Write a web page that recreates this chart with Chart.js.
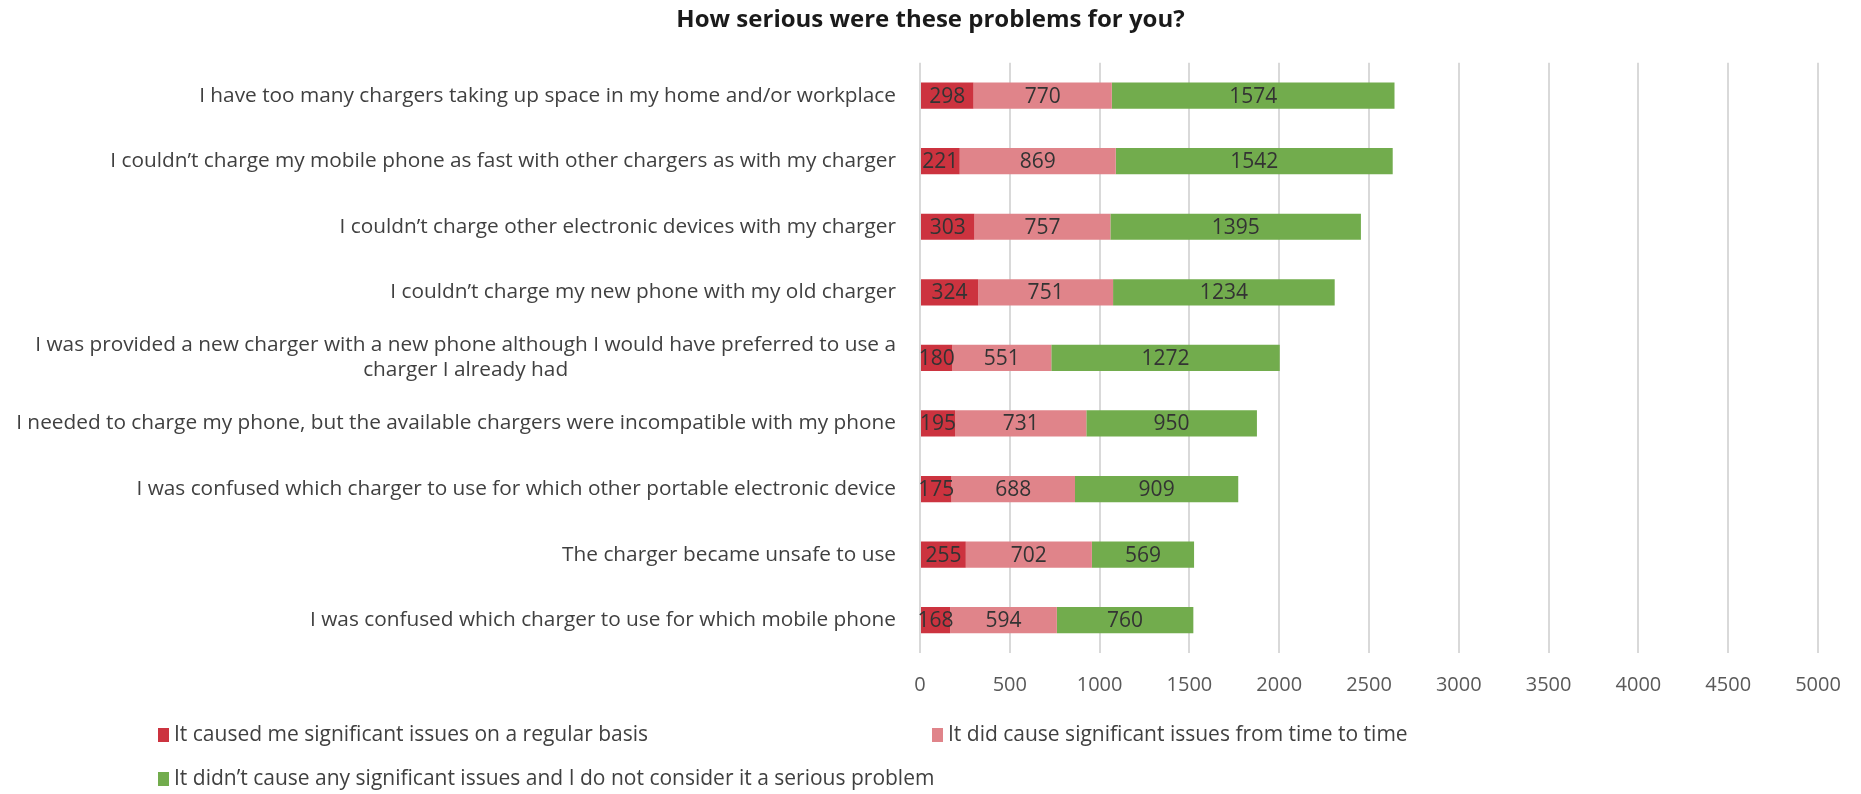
<!DOCTYPE html>
<html>
<head>
<meta charset="utf-8">
<script src="https://cdn.jsdelivr.net/npm/chart.js@4.4.1/dist/chart.umd.min.js"></script>
<style>
html, body { margin: 0; padding: 0; background: #fff; }
</style>
</head>
<body>
<canvas id="bar-chart" width="1861" height="794"></canvas>
<script>
// survey answers, one entry per problem (top to bottom)
const problems = [
	"I have too many chargers taking up space in my home and/or workplace",
	"I couldn’t charge my mobile phone as fast with other chargers as with my charger",
	"I couldn’t charge other electronic devices with my charger",
	"I couldn’t charge my new phone with my old charger",
	["I was provided a new charger with a new phone although I would have preferred to use a", "charger I already had"],
	"I needed to charge my phone, but the available chargers were incompatible with my phone",
	"I was confused which charger to use for which other portable electronic device",
	"The charger became unsafe to use",
	"I was confused which charger to use for which mobile phone"
];
const regular    = [298, 221, 303, 324, 180, 195, 175, 255, 168];
const timeToTime = [770, 869, 757, 751, 551, 731, 688, 702, 594];
const notSerious = [1574, 1542, 1395, 1234, 1272, 950, 909, 569, 760];

const seriesNames = [
	"It caused me significant issues on a regular basis",
	"It did cause significant issues from time to time",
	"It didn’t cause any significant issues and I do not consider it a serious problem"
];
const seriesColors = ["#cc333f", "#e0848a", "#72ac4d"];

const FONT = "'Open Sans', 'Noto Sans', sans-serif";

// value written in the middle of each segment
const barValues = {
	id: 'barValues',
	afterDatasetsDraw(chart) {
		const ctx = chart.ctx;
		ctx.save();
		ctx.font = "21px " + FONT;
		ctx.fillStyle = "#333333";
		ctx.textAlign = "center";
		ctx.textBaseline = "middle";
		chart.data.datasets.forEach((ds, i) => {
			chart.getDatasetMeta(i).data.forEach((bar, j) => {
				ctx.fillText(ds.data[j], (bar.x + bar.base) / 2, bar.y + 1);
			});
		});
		ctx.restore();
	}
};

// category labels: block right aligned, lines of a wrapped label centred
const catLabels = {
	id: 'catLabels',
	afterDraw(chart) {
		const ctx = chart.ctx;
		const y = chart.scales.y;
		const right = chart.chartArea.left - 24;
		ctx.save();
		ctx.font = "20.8px " + FONT;
		ctx.fillStyle = "#404040";
		ctx.textBaseline = "middle";
		ctx.textAlign = "center";
		chart.data.labels.forEach((lab, i) => {
			const lines = Array.isArray(lab) ? lab : [lab];
			const w = Math.max(...lines.map(l => ctx.measureText(l).width));
			const cy = y.getPixelForTick(i);
			const lh = 25;
			lines.forEach((l, k) => {
				ctx.fillText(l, right - w / 2, cy + (k - (lines.length - 1) / 2) * lh);
			});
		});
		ctx.restore();
	}
};

// legend laid out in two columns below the axis
const gridLegend = {
	id: 'gridLegend',
	afterDraw(chart) {
		const ctx = chart.ctx;
		const spots = [[158, 735], [932, 735], [158, 779]];
		ctx.save();
		ctx.font = "21px " + FONT;
		ctx.textBaseline = "middle";
		ctx.textAlign = "left";
		chart.data.datasets.forEach((ds, i) => {
			const [x, y] = spots[i];
			ctx.fillStyle = ds.backgroundColor;
			ctx.fillRect(x, y - 7, 11, 14);
			ctx.fillStyle = "#404040";
			ctx.fillText(ds.label, x + 16, y);
		});
		ctx.restore();
	}
};

new Chart(document.getElementById("bar-chart"), {
	type: 'bar',
	data: {
		labels: problems,
		datasets: [
			{ label: seriesNames[0], data: regular,    backgroundColor: seriesColors[0] },
			{ label: seriesNames[1], data: timeToTime, backgroundColor: seriesColors[1] },
			{ label: seriesNames[2], data: notSerious, backgroundColor: seriesColors[2] }
		]
	},
	options: {
		indexAxis: 'y',
		responsive: false,
		animation: false,
		categoryPercentage: 1,
		barPercentage: 0.4,
		layout: { padding: 0 },
		scales: {
			x: {
				stacked: true,
				min: 0,
				max: 5000,
				ticks: {
					stepSize: 500,
					padding: 20,
					color: "#595959",
					font: { family: FONT, size: 20 },
					callback: v => String(v)
				},
				grid: { color: "#d9d9d9", lineWidth: 2, drawTicks: false },
				border: { display: false },
				afterFit(scale) { scale.height = 141; }
			},
			y: {
				stacked: true,
				ticks: { display: false },
				grid: { display: false },
				border: { display: false },
				afterFit(scale) { scale.width = 920; }
			},
			// empty strip on the right so the title stays centred on the page
			yRight: {
				type: 'category',
				position: 'right',
				ticks: { display: false },
				grid: { display: false },
				border: { display: false },
				afterFit(scale) { scale.width = 43; }
			}
		},
		plugins: {
			legend: { display: false },
			tooltip: { enabled: false },
			title: {
				display: true,
				text: "How serious were these problems for you?",
				color: "#1a1a1a",
				font: { family: FONT, size: 24, weight: 'bold' },
				padding: { top: 6, bottom: 28 }
			}
		}
	},
	plugins: [barValues, catLabels, gridLegend]
});
</script>
</body>
</html>
